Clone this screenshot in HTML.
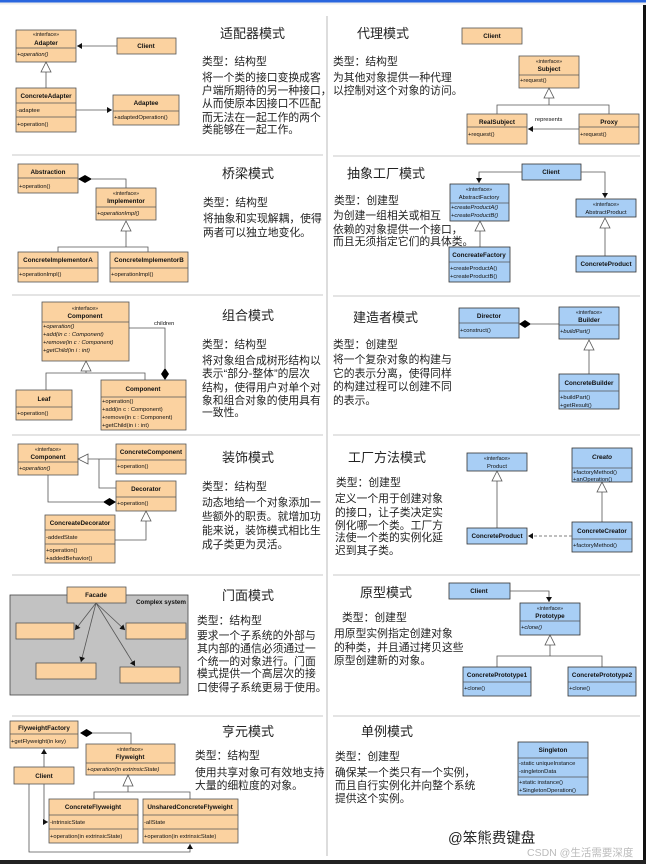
<!DOCTYPE html>
<html><head><meta charset="utf-8"><style>
html,body{margin:0;padding:0;background:#fff}
svg{display:block}
.o{fill:#fbd2a0;stroke:#555;stroke-width:.8}
.b{fill:#a8cef5;stroke:#333;stroke-width:.8}
.l{stroke:#555;stroke-width:.8;fill:none}
.t{fill:#fff;stroke:#555;stroke-width:.8}
.d{fill:#000}
text{font-family:"Liberation Sans",Arial,sans-serif;fill:#111}
.n{font-size:6.3px;font-weight:bold;text-anchor:middle}
.s{font-size:5.3px;text-anchor:middle}
.m{font-size:5.8px}
.i{font-style:italic}
.h{font-family:"Liberation Sans","Noto Sans CJK SC",sans-serif;font-size:13px;fill:#222}
.c{font-family:"Liberation Sans","Noto Sans CJK SC",sans-serif;font-size:10.8px;fill:#222}
</style></head><body>
<svg width="646" height="864" viewBox="0 0 646 864" xmlns="http://www.w3.org/2000/svg">
<defs>
<marker id="a" markerWidth="6" markerHeight="6" refX="5" refY="3" orient="auto" markerUnits="userSpaceOnUse"><path d="M0,0 L5,3 L0,6 Z" fill="#111"/></marker>
</defs>
<rect x="0" y="0" width="646" height="2.5" fill="#2a66de"/>
<rect x="0" y="2.5" width="646" height="2" fill="#eee"/>
<rect x="643" y="5" width="3" height="859" fill="#111"/>
<rect x="0" y="860" width="646" height="4" fill="#222"/>
<line x1="327" y1="16" x2="327" y2="856" stroke="#bbb" stroke-width="1"/>
<g stroke="#c8c8c8" stroke-width="1">
<line x1="12" y1="155" x2="323" y2="155"/><line x1="333" y1="156" x2="640" y2="156"/>
<line x1="12" y1="295" x2="323" y2="295"/><line x1="333" y1="296" x2="640" y2="296"/>
<line x1="12" y1="435" x2="323" y2="435"/><line x1="333" y1="435" x2="640" y2="435"/>
<line x1="12" y1="575" x2="323" y2="575"/><line x1="333" y1="575" x2="640" y2="575"/>
<line x1="12" y1="716" x2="323" y2="716"/><line x1="333" y1="716" x2="640" y2="716"/>
</g>

<!-- Adapter -->
<rect class="o" x="16" y="30" width="60" height="32"/><line class="l" x1="16" y1="48" x2="76" y2="48"/>
<text class="s" x="46" y="36">«interface»</text><text class="n" x="46" y="45">Adapter</text>
<text class="m i" x="17" y="56">+operation()</text>
<rect class="o" x="117" y="38" width="59" height="16"/><text class="n" x="146" y="48">Client</text>
<line class="l" x1="117" y1="46" x2="77" y2="46" marker-end="url(#a)"/>
<rect class="o" x="16" y="88" width="60" height="44"/><line class="l" x1="16" y1="103" x2="76" y2="103"/><line class="l" x1="16" y1="117" x2="76" y2="117"/>
<text class="n" x="46" y="98">ConcreteAdapter</text><text class="m" x="17" y="112">-adaptee</text><text class="m" x="17" y="126">+operation()</text>
<line class="l" x1="46" y1="88" x2="46" y2="72"/><polygon class="t" points="46,62 41,72 51,72"/>
<rect class="o" x="113" y="95" width="66" height="30"/><line class="l" x1="113" y1="111" x2="179" y2="111"/>
<text class="n" x="146" y="105">Adaptee</text><text class="m" x="114" y="119">+adaptedOperation()</text>
<line class="l" x1="76" y1="110" x2="112" y2="110" marker-end="url(#a)"/>
<text class="h" x="220" y="38">适配器模式</text>
<text class="c" x="202" y="65">类型：结构型</text>
<text class="c" x="202" y="81">将一个类的接口变换成客</text>
<text class="c" x="202" y="94">户端所期待的另一种接口，</text>
<text class="c" x="202" y="107">从而使原本因接口不匹配</text>
<text class="c" x="202" y="121">而无法在一起工作的两个</text>
<text class="c" x="202" y="133">类能够在一起工作。</text>

<!-- Bridge -->
<rect class="o" x="18" y="164" width="60" height="29"/><line class="l" x1="18" y1="178" x2="78" y2="178"/>
<text class="n" x="48" y="174">Abstraction</text><text class="m" x="19" y="188">+operation()</text>
<polygon class="d" points="78,179 85,175 92,179 85,183"/>
<polyline class="l" points="92,179 126,179 126,188"/>
<rect class="o" x="96" y="188" width="60" height="32"/><line class="l" x1="96" y1="207" x2="156" y2="207"/>
<text class="s" x="126" y="195">«interface»</text><text class="n" x="126" y="203">Implementor</text>
<text class="m i" x="97" y="215">+operationImpl()</text>
<polygon class="t" points="126,221 121,231 131,231"/>
<polyline class="l" points="126,231 126,247"/><polyline class="l" points="58,252 58,247 148,247 148,252"/>
<rect class="o" x="18" y="252" width="80" height="30"/><line class="l" x1="18" y1="268" x2="98" y2="268"/>
<text class="n" x="58" y="262">ConcreteImplementorA</text><text class="m" x="19" y="276">+operationImpl()</text>
<rect class="o" x="110" y="252" width="78" height="30"/><line class="l" x1="110" y1="268" x2="188" y2="268"/>
<text class="n" x="149" y="262">ConcreteImplementorB</text><text class="m" x="111" y="276">+operationImpl()</text>
<text class="h" x="222" y="178">桥梁模式</text>
<text class="c" x="203" y="206">类型：结构型</text>
<text class="c" x="203" y="222">将抽象和实现解耦，使得</text>
<text class="c" x="203" y="236">两者可以独立地变化。</text>

<!-- Composite -->
<rect class="o" x="42" y="302" width="87" height="59"/><line class="l" x1="42" y1="322" x2="129" y2="322"/>
<text class="s" x="85" y="310">«interface»</text><text class="n" x="85" y="318">Component</text>
<text class="m i" x="43" y="328">+operation()</text><text class="m i" x="43" y="336">+add(in c : Component)</text>
<text class="m i" x="43" y="344">+remove(in c : Component)</text><text class="m i" x="43" y="352">+getChild(in i : int)</text>
<text class="m" x="154" y="325">children</text>
<polyline class="l" points="129,328 165,328 165,368"/>
<polygon class="d" points="165,368 169,374 165,380 161,374"/>
<polygon class="t" points="86,361 81,371 91,371"/>
<polyline class="l" points="86,371 86,373"/><polyline class="l" points="46,390 46,373 145,373 145,380"/>
<rect class="o" x="16" y="390" width="56" height="30"/><line class="l" x1="16" y1="407" x2="72" y2="407"/>
<text class="n" x="44" y="401">Leaf</text><text class="m" x="17" y="415">+operation()</text>
<rect class="o" x="101" y="380" width="85" height="50"/><line class="l" x1="101" y1="397" x2="186" y2="397"/>
<text class="n" x="143" y="391">Component</text>
<text class="m" x="102" y="403">+operation()</text><text class="m" x="102" y="411">+add(in c : Component)</text>
<text class="m" x="102" y="419">+remove(in c : Component)</text><text class="m" x="102" y="427">+getChild(in i : int)</text>
<text class="h" x="222" y="320">组合模式</text>
<text class="c" x="202" y="348">类型：结构型</text>
<text class="c" x="202" y="364">将对象组合成树形结构以</text>
<text class="c" x="202" y="377">表示“部分-整体”的层次</text>
<text class="c" x="202" y="391">结构，使得用户对单个对</text>
<text class="c" x="202" y="404">象和组合对象的使用具有</text>
<text class="c" x="202" y="416">一致性。</text>

<!-- Decorator -->
<rect class="o" x="18" y="444" width="60" height="31"/><line class="l" x1="18" y1="462" x2="78" y2="462"/>
<text class="s" x="48" y="451">«interface»</text><text class="n" x="48" y="459">Component</text>
<text class="m i" x="19" y="470">+operation()</text>
<rect class="o" x="116" y="444" width="70" height="30"/><line class="l" x1="116" y1="460" x2="186" y2="460"/>
<text class="n" x="151" y="454">ConcreteComponent</text><text class="m" x="117" y="468">+operation()</text>
<line class="l" x1="88" y1="459" x2="116" y2="459"/><polygon class="t" points="78,459 88,454 88,464"/>
<polyline class="l" points="99,459 99,488 116,488"/>
<rect class="o" x="116" y="481" width="60" height="30"/><line class="l" x1="116" y1="497" x2="176" y2="497"/>
<text class="n" x="146" y="491">Decorator</text><text class="m" x="117" y="505">+operation()</text>
<polyline class="l" points="48,475 48,502 103,502"/>
<polygon class="d" points="103,502 109.5,498 116,502 109.5,506"/>
<polygon class="t" points="146,511 141,521 151,521"/>
<polyline class="l" points="146,521 146,540 115,540"/>
<rect class="o" x="45" y="515" width="70" height="48"/><line class="l" x1="45" y1="530" x2="115" y2="530"/><line class="l" x1="45" y1="544" x2="115" y2="544"/>
<text class="n" x="80" y="525">ConcreateDecorator</text><text class="m" x="46" y="539">-addedState</text>
<text class="m" x="46" y="552">+operation()</text><text class="m" x="46" y="560">+addedBehavior()</text>
<text class="h" x="222" y="462">装饰模式</text>
<text class="c" x="202" y="490">类型：结构型</text>
<text class="c" x="202" y="506">动态地给一个对象添加一</text>
<text class="c" x="202" y="520">些额外的职责。就增加功</text>
<text class="c" x="202" y="534">能来说，装饰模式相比生</text>
<text class="c" x="202" y="548">成子类更为灵活。</text>

<!-- Facade -->
<rect x="10" y="595" width="178" height="100" fill="#c2c2c2" stroke="#444" stroke-width=".8"/>
<rect class="o" x="67" y="587" width="59" height="16"/><text class="n" x="96" y="597">Facade</text>
<text class="n" x="161" y="604">Complex system</text>
<rect class="o" x="16" y="623" width="58" height="16"/>
<rect class="o" x="126" y="623" width="60" height="16"/>
<rect class="o" x="36" y="663" width="60" height="16"/>
<rect class="o" x="120" y="667" width="60" height="16"/>
<g class="l"><line x1="96" y1="603" x2="75" y2="630" marker-end="url(#a)"/>
<line x1="96" y1="603" x2="81" y2="662" marker-end="url(#a)"/>
<line x1="96" y1="603" x2="125" y2="630" marker-end="url(#a)"/>
<line x1="96" y1="603" x2="135" y2="666" marker-end="url(#a)"/></g>
<text class="h" x="222" y="600">门面模式</text>
<text class="c" x="197" y="624">类型：结构型</text>
<text class="c" x="197" y="639">要求一个子系统的外部与</text>
<text class="c" x="197" y="652">其内部的通信必须通过一</text>
<text class="c" x="197" y="665">个统一的对象进行。门面</text>
<text class="c" x="197" y="677">模式提供一个高层次的接</text>
<text class="c" x="197" y="691">口使得子系统更易于使用。</text>

<!-- Flyweight -->
<rect class="o" x="10" y="721" width="68" height="27"/><line class="l" x1="10" y1="734" x2="78" y2="734"/>
<text class="n" x="44" y="730">FlyweightFactory</text><text class="m" x="11" y="743">+getFlyweight(in key)</text>
<polygon class="d" points="80,733 86.5,729 93,733 86.5,737"/>
<polyline class="l" points="93,733 131,733 131,744"/>
<rect class="o" x="86" y="744" width="89" height="31"/><line class="l" x1="86" y1="763" x2="175" y2="763"/>
<text class="s" x="130" y="751">«interface»</text><text class="n" x="130" y="759">Flyweight</text>
<text class="m i" x="87" y="771">+operation(in extrinsicState)</text>
<polygon class="t" points="128,775 123,786 133,786"/>
<polyline class="l" points="128,786 128,792"/><polyline class="l" points="94,799 94,792 190,792 190,799"/>
<rect class="o" x="14" y="767" width="60" height="17"/><text class="n" x="44" y="778">Client</text>
<line class="l" x1="44" y1="767" x2="44" y2="749" marker-end="url(#a)"/>
<polyline class="l" points="44,784 44,822 48,822" marker-end="url(#a)"/>
<polyline class="l" points="29,784 29,852 190,852 190,844" marker-end="url(#a)"/>
<rect class="o" x="49" y="799" width="89" height="44"/><line class="l" x1="49" y1="815" x2="138" y2="815"/><line class="l" x1="49" y1="829" x2="138" y2="829"/>
<text class="n" x="93" y="809">ConcreteFlyweight</text><text class="m" x="50" y="824">-intrinsicState</text><text class="m" x="50" y="838">+operation(in extrinsicState)</text>
<rect class="o" x="143" y="799" width="95" height="44"/><line class="l" x1="143" y1="815" x2="238" y2="815"/><line class="l" x1="143" y1="829" x2="238" y2="829"/>
<text class="n" x="190" y="809">UnsharedConcreteFlyweight</text><text class="m" x="144" y="824">-allState</text><text class="m" x="144" y="838">+operation(in extrinsicState)</text>
<text class="h" x="222" y="736">亨元模式</text>
<text class="c" x="195" y="759">类型：结构型</text>
<text class="c" x="195" y="776">使用共享对象可有效地支持</text>
<text class="c" x="195" y="789">大量的细粒度的对象。</text>

<!-- Proxy -->
<text class="h" x="357" y="38">代理模式</text>
<text class="c" x="333" y="65">类型：结构型</text>
<text class="c" x="333" y="81">为其他对象提供一种代理</text>
<text class="c" x="333" y="94">以控制对这个对象的访问。</text>
<rect class="o" x="462" y="28" width="60" height="16"/><text class="n" x="492" y="38">Client</text>
<rect class="o" x="519" y="56" width="60" height="32"/><line class="l" x1="519" y1="75" x2="579" y2="75"/>
<text class="s" x="549" y="63">«interface»</text><text class="n" x="549" y="71">Subject</text><text class="m" x="520" y="82">+request()</text>
<polygon class="t" points="549,88 544,98 554,98"/>
<polyline class="l" points="549,98 549,105"/><polyline class="l" points="497,114 497,105 609,105 609,114"/>
<rect class="o" x="467" y="114" width="60" height="30"/><line class="l" x1="467" y1="127" x2="527" y2="127"/>
<text class="n" x="497" y="124">RealSubject</text><text class="m" x="468" y="136">+request()</text>
<rect class="o" x="579" y="114" width="60" height="30"/><line class="l" x1="579" y1="127" x2="639" y2="127"/>
<text class="n" x="609" y="124">Proxy</text><text class="m" x="580" y="136">+request()</text>
<text class="m" x="535" y="121">represents</text>
<line class="l" x1="579" y1="129" x2="528" y2="129" marker-end="url(#a)"/>

<!-- Abstract factory -->
<text class="h" x="347" y="178">抽象工厂模式</text>
<text class="c" x="334" y="204">类型：创建型</text>
<text class="c" x="333" y="219">为创建一组相关或相互</text>
<text class="c" x="333" y="233">依赖的对象提供一个接口，</text>
<text class="c" x="333" y="245">而且无须指定它们的具体类。</text>
<rect class="b" x="522" y="164" width="59" height="16"/><text class="n" x="551" y="174">Client</text>
<polyline class="l" points="522,172 479,172 479,183" marker-end="url(#a)"/>
<polyline class="l" points="581,172 605,172 605,198" marker-end="url(#a)"/>
<rect class="b" x="450" y="184" width="59" height="37"/><line class="l" x1="450" y1="203" x2="509" y2="203"/>
<text class="s" x="479" y="191">«interface»</text><text class="s" x="479" y="199" style="font-size:5.8px">AbstractFactory</text>
<text class="m i" x="451" y="209">+createProductA()</text><text class="m i" x="451" y="217">+createProductB()</text>
<polygon class="t" points="480,221 475,231 485,231"/><line class="l" x1="480" y1="231" x2="480" y2="247"/>
<rect class="b" x="449" y="247" width="61" height="35"/><line class="l" x1="449" y1="262" x2="510" y2="262"/>
<text class="n" x="479" y="257">ConcreateFactory</text>
<text class="m" x="450" y="270">+createProductA()</text><text class="m" x="450" y="278">+createProductB()</text>
<rect class="b" x="576" y="199" width="60" height="18"/>
<text class="s" x="606" y="206">«interface»</text><text class="s" x="606" y="214" style="font-size:5.8px">AbstractProduct</text>
<polygon class="t" points="605,218 600,228 610,228"/><line class="l" x1="605" y1="228" x2="605" y2="256"/>
<rect class="b" x="576" y="256" width="60" height="16"/><text class="n" x="606" y="266">ConcreteProduct</text>

<!-- Builder -->
<text class="h" x="353" y="322">建造者模式</text>
<text class="c" x="333" y="348">类型：创建型</text>
<text class="c" x="333" y="363">将一个复杂对象的构建与</text>
<text class="c" x="333" y="377">它的表示分离，使得同样</text>
<text class="c" x="333" y="390">的构建过程可以创建不同</text>
<text class="c" x="333" y="404">的表示。</text>
<rect class="b" x="459" y="308" width="60" height="30"/><line class="l" x1="459" y1="323" x2="519" y2="323"/>
<text class="n" x="489" y="318">Director</text><text class="m" x="460" y="332">+construct()</text>
<polygon class="d" points="519,324 525,320 531,324 525,328"/>
<line class="l" x1="531" y1="324" x2="559" y2="324"/>
<rect class="b" x="559" y="307" width="60" height="32"/><line class="l" x1="559" y1="325" x2="619" y2="325"/>
<text class="s" x="589" y="314">«interface»</text><text class="n" x="589" y="322">Builder</text><text class="m i" x="560" y="333">+buildPart()</text>
<polygon class="t" points="589,340 584,350 594,350"/><line class="l" x1="589" y1="350" x2="589" y2="374"/>
<rect class="b" x="559" y="374" width="60" height="35"/><line class="l" x1="559" y1="391" x2="619" y2="391"/>
<text class="n" x="589" y="385">ConcreteBuilder</text>
<text class="m" x="560" y="399">+buildPart()</text><text class="m" x="560" y="407">+getResult()</text>

<!-- Factory method -->
<text class="h" x="348" y="462">工厂方法模式</text>
<text class="c" x="336" y="486">类型：创建型</text>
<text class="c" x="335" y="502">定义一个用于创建对象</text>
<text class="c" x="335" y="516">的接口，让子类决定实</text>
<text class="c" x="335" y="529">例化哪一个类。工厂方</text>
<text class="c" x="335" y="541">法使一个类的实例化延</text>
<text class="c" x="335" y="554">迟到其子类。</text>
<rect class="b" x="467" y="453" width="60" height="18"/>
<text class="s" x="497" y="460">«interface»</text><text class="s" x="497" y="468" style="font-size:5.8px">Product</text>
<polygon class="t" points="497,471 492,481 502,481"/><line class="l" x1="497" y1="481" x2="497" y2="528"/>
<rect class="b" x="467" y="528" width="60" height="16"/><text class="n" x="497" y="538">ConcreteProduct</text>
<rect class="b" x="572" y="448" width="60" height="34"/><line class="l" x1="572" y1="468" x2="632" y2="468"/>
<text class="n i" x="602" y="459">Creato</text>
<text class="m" x="573" y="474">+factoryMethod()</text><text class="m" x="573" y="481">+anOperation()</text>
<polygon class="t" points="602,482 597,492 607,492"/><line class="l" x1="602" y1="492" x2="602" y2="522"/>
<rect class="b" x="572" y="522" width="60" height="30"/><line class="l" x1="572" y1="539" x2="632" y2="539"/>
<text class="n" x="602" y="533">ConcreteCreator</text><text class="m" x="573" y="547">+factoryMethod()</text>
<line class="l" x1="572" y1="536" x2="528" y2="536" stroke-dasharray="3,2" marker-end="url(#a)"/>

<!-- Prototype -->
<text class="h" x="360" y="597">原型模式</text>
<text class="c" x="342" y="621">类型：创建型</text>
<text class="c" x="334" y="637">用原型实例指定创建对象</text>
<text class="c" x="334" y="651">的种类，并且通过拷贝这些</text>
<text class="c" x="334" y="664">原型创建新的对象。</text>
<rect class="b" x="449" y="583" width="61" height="16"/><text class="n" x="479" y="593">Client</text>
<polyline class="l" points="510,591 549,591 549,602" marker-end="url(#a)"/>
<rect class="b" x="520" y="603" width="60" height="32"/><line class="l" x1="520" y1="621" x2="580" y2="621"/>
<text class="s" x="550" y="610">«interface»</text><text class="n" x="550" y="618">Prototype</text><text class="m i" x="521" y="629">+clone()</text>
<polygon class="t" points="550,635 545,645 555,645"/><line class="l" x1="550" y1="645" x2="550" y2="656"/>
<polyline class="l" points="497,667 497,656 602,656 602,667"/>
<rect class="b" x="463" y="667" width="68" height="29"/><line class="l" x1="463" y1="682" x2="531" y2="682"/>
<text class="n" x="497" y="677">ConcretePrototype1</text><text class="m" x="464" y="690">+clone()</text>
<rect class="b" x="568" y="667" width="68" height="29"/><line class="l" x1="568" y1="682" x2="636" y2="682"/>
<text class="n" x="602" y="677">ConcretePrototype2</text><text class="m" x="569" y="690">+clone()</text>

<!-- Singleton -->
<text class="h" x="361" y="736">单例模式</text>
<text class="c" x="335" y="760">类型：创建型</text>
<text class="c" x="335" y="776">确保某一个类只有一个实例，</text>
<text class="c" x="335" y="789">而且自行实例化并向整个系统</text>
<text class="c" x="335" y="802">提供这个实例。</text>
<rect class="b" x="518" y="742" width="70" height="53"/><line class="l" x1="518" y1="758" x2="588" y2="758"/><line class="l" x1="518" y1="777" x2="588" y2="777"/>
<text class="n" x="553" y="752">Singleton</text>
<text class="m" x="519" y="765">-static uniqueInstance</text><text class="m" x="519" y="773">-singletonData</text>
<text class="m" x="519" y="784">+static instance()</text><text class="m" x="519" y="792">+SingletonOperation()</text>
<text x="448" y="843" style="font-family:'Liberation Sans','Noto Sans CJK SC',sans-serif;font-size:14.5px;fill:#222">@笨熊费键盘</text>
<text x="527" y="856" style="font-family:'Liberation Sans','Noto Sans CJK SC',sans-serif;font-size:10.5px;fill:#bbb">CSDN @生活需要深度</text>
</svg>
</body></html>
